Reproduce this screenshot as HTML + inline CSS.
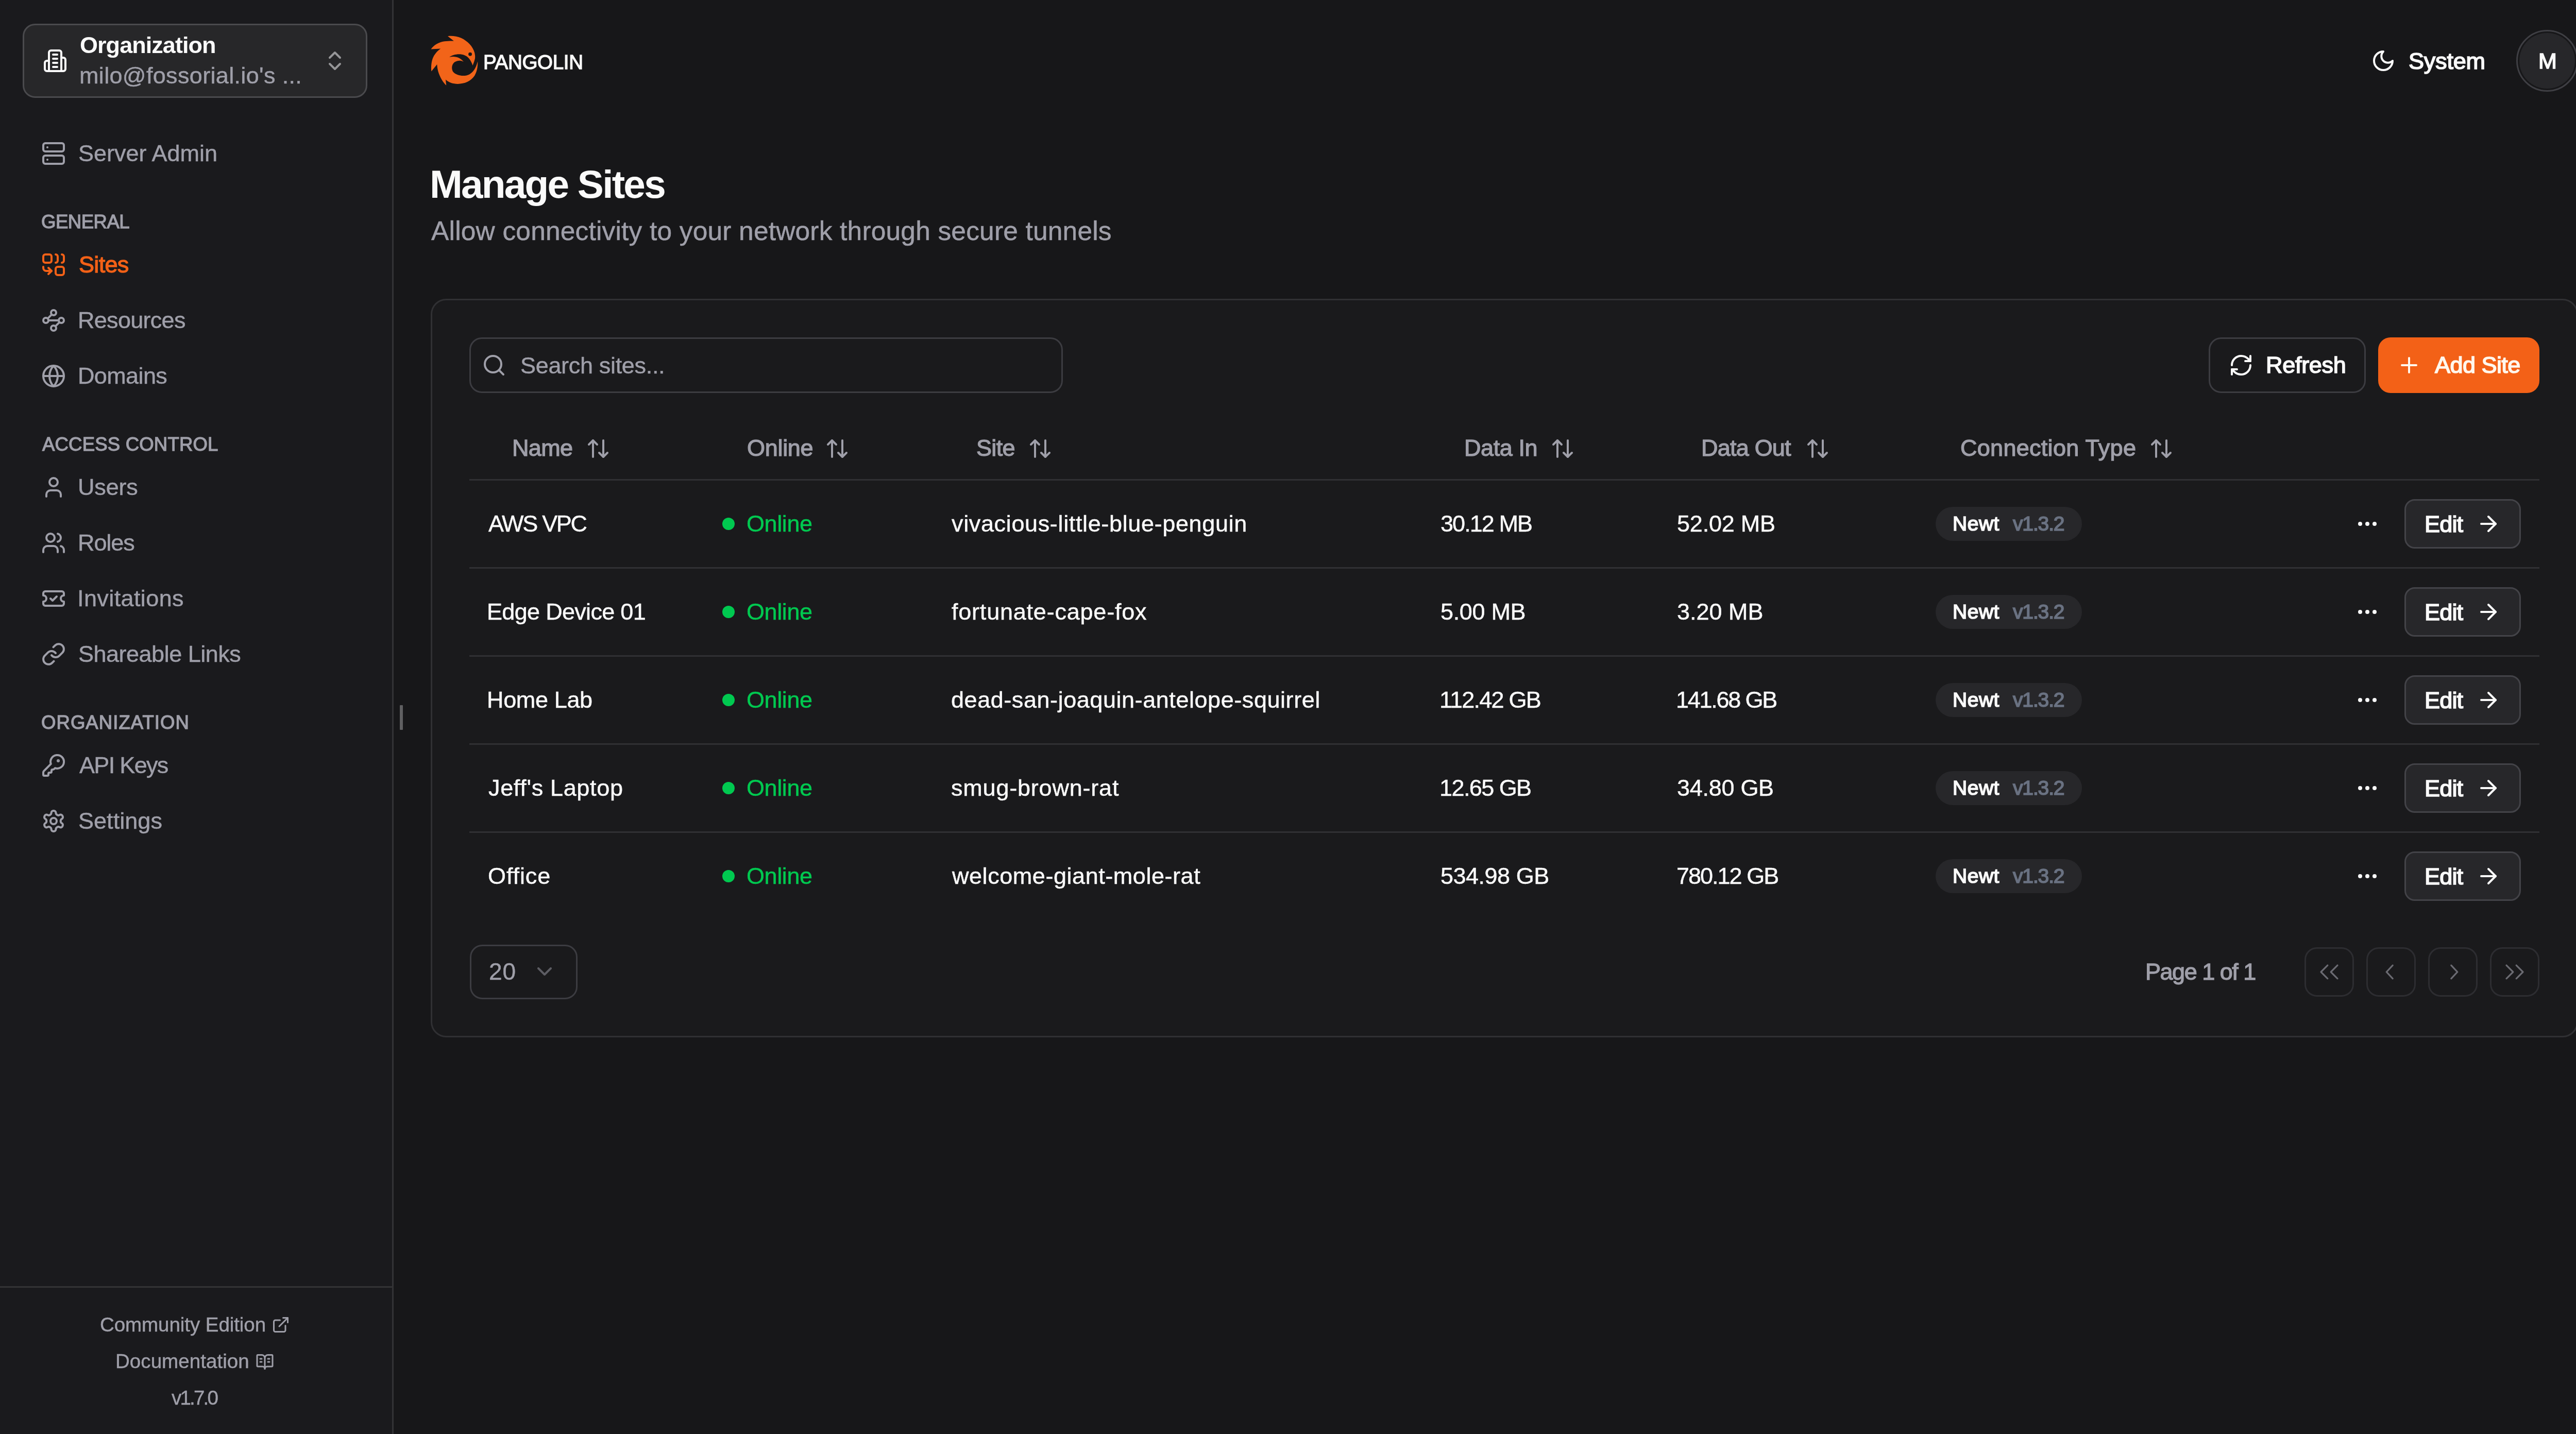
<!DOCTYPE html>
<html><head><meta charset="utf-8"><title>Manage Sites - Pangolin</title>
<style>
html,body{margin:0;padding:0;}
body{width:5074px;height:2784px;overflow:hidden;background:#171719;font-family:"Liberation Sans", Arial, sans-serif;position:relative;}
.t{position:absolute;white-space:nowrap;will-change:transform;}
.b{position:absolute;}
.i{position:absolute;overflow:visible;}
</style></head><body>
<div class="b" style="left:0px;top:0px;width:761px;height:2784px;background:#1a1a1d;"></div>
<div class="b" style="left:761px;top:0px;width:3px;height:2784px;background:#333335;"></div>
<div class="b" style="left:776px;top:1369px;width:6px;height:48px;background:#5f5f61;border-radius:1px;"></div>
<div class="b" style="left:44px;top:46px;width:669px;height:144px;box-sizing:border-box;border:3px solid #4a4a4d;border-radius:24px;background:#272729;"></div>
<svg class="i" style="left:83px;top:94px;color:#fafafa;" width="48" height="48" viewBox="0 0 24 24" fill="none" stroke="#fafafa" stroke-width="2" stroke-linecap="round" stroke-linejoin="round"><path d="M6 22V4a2 2 0 0 1 2-2h8a2 2 0 0 1 2 2v18Z"/><path d="M6 12H4a2 2 0 0 0-2 2v6a2 2 0 0 0 2 2h2"/><path d="M18 9h2a2 2 0 0 1 2 2v9a2 2 0 0 1-2 2h-2"/><path d="M10 6h4"/><path d="M10 10h4"/><path d="M10 14h4"/><path d="M10 18h4"/></svg>
<span id="t1" class="t" style="left:155.00px;top:65.41px;font-size:45px;line-height:45px;color:#fafafa;font-weight:700;letter-spacing:-0.955px;">Organization</span>
<span id="t2" class="t" style="left:154.00px;top:124.41px;font-size:45px;line-height:45px;color:#9f9fa9;font-weight:400;-webkit-text-stroke:0.5px #9f9fa9;letter-spacing:0.340px;">milo@fossorial.io's ...</span>
<svg class="i" style="left:626px;top:94px;color:#969698;" width="48" height="48" viewBox="0 0 24 24" fill="none" stroke="#969698" stroke-width="2" stroke-linecap="round" stroke-linejoin="round"><path d="m7 15 5 5 5-5"/><path d="m7 9 5-5 5 5"/></svg>
<svg class="i" style="left:80px;top:274px;color:#9f9fa9;" width="48" height="48" viewBox="0 0 24 24" fill="none" stroke="#9f9fa9" stroke-width="2" stroke-linecap="round" stroke-linejoin="round"><rect width="20" height="8" x="2" y="2" rx="2" ry="2"/><rect width="20" height="8" x="2" y="14" rx="2" ry="2"/><line x1="6" x2="6.01" y1="6" y2="6"/><line x1="6" x2="6.01" y1="18" y2="18"/></svg>
<span id="t3" class="t" style="left:152.00px;top:275.41px;font-size:45px;line-height:45px;color:#9f9fa9;font-weight:400;-webkit-text-stroke:0.5px #9f9fa9;letter-spacing:-0.018px;">Server Admin</span>
<svg class="i" style="left:80px;top:490px;color:#f36117;" width="48" height="48" viewBox="0 0 24 24" fill="none" stroke="#f36117" stroke-width="2" stroke-linecap="round" stroke-linejoin="round"><path d="M10 18H5a3 3 0 0 1-3-3v-1"/><path d="M14 2a2 2 0 0 1 2 2v4a2 2 0 0 1-2 2"/><path d="M20 2a2 2 0 0 1 2 2v4a2 2 0 0 1-2 2"/><path d="m7 21 3-3-3-3"/><rect x="14" y="14" width="8" height="8" rx="2"/><rect x="2" y="2" width="8" height="8" rx="2"/></svg>
<span id="t4" class="t" style="left:153.00px;top:491.41px;font-size:45px;line-height:45px;color:#f36117;font-weight:400;-webkit-text-stroke:1.3px #f36117;letter-spacing:-0.688px;">Sites</span>
<svg class="i" style="left:80px;top:598px;color:#9f9fa9;" width="48" height="48" viewBox="0 0 24 24" fill="none" stroke="#9f9fa9" stroke-width="2" stroke-linecap="round" stroke-linejoin="round"><circle cx="12" cy="4.5" r="2.5"/><path d="m10.2 6.3-3.9 3.9"/><circle cx="4.5" cy="12" r="2.5"/><path d="M7 12h10"/><circle cx="19.5" cy="12" r="2.5"/><path d="m13.8 17.7 3.9-3.9"/><circle cx="12" cy="19.5" r="2.5"/></svg>
<span id="t5" class="t" style="left:151.00px;top:599.41px;font-size:45px;line-height:45px;color:#9f9fa9;font-weight:400;-webkit-text-stroke:0.5px #9f9fa9;letter-spacing:-0.714px;">Resources</span>
<svg class="i" style="left:80px;top:706px;color:#9f9fa9;" width="48" height="48" viewBox="0 0 24 24" fill="none" stroke="#9f9fa9" stroke-width="2" stroke-linecap="round" stroke-linejoin="round"><circle cx="12" cy="12" r="10"/><path d="M12 2a14.5 14.5 0 0 0 0 20 14.5 14.5 0 0 0 0-20"/><path d="M2 12h20"/></svg>
<span id="t6" class="t" style="left:151.00px;top:707.41px;font-size:45px;line-height:45px;color:#9f9fa9;font-weight:400;-webkit-text-stroke:0.5px #9f9fa9;letter-spacing:-0.629px;">Domains</span>
<svg class="i" style="left:80px;top:922px;color:#9f9fa9;" width="48" height="48" viewBox="0 0 24 24" fill="none" stroke="#9f9fa9" stroke-width="2" stroke-linecap="round" stroke-linejoin="round"><path d="M19 21v-2a4 4 0 0 0-4-4H9a4 4 0 0 0-4 4v2"/><circle cx="12" cy="7" r="4"/></svg>
<span id="t7" class="t" style="left:151.00px;top:923.41px;font-size:45px;line-height:45px;color:#9f9fa9;font-weight:400;-webkit-text-stroke:0.5px #9f9fa9;letter-spacing:-0.175px;">Users</span>
<svg class="i" style="left:80px;top:1030px;color:#9f9fa9;" width="48" height="48" viewBox="0 0 24 24" fill="none" stroke="#9f9fa9" stroke-width="2" stroke-linecap="round" stroke-linejoin="round"><path d="M16 21v-2a4 4 0 0 0-4-4H6a4 4 0 0 0-4 4v2"/><circle cx="9" cy="7" r="4"/><path d="M22 21v-2a4 4 0 0 0-3-3.87"/><path d="M16 3.13a4 4 0 0 1 0 7.75"/></svg>
<span id="t8" class="t" style="left:151.00px;top:1031.41px;font-size:45px;line-height:45px;color:#9f9fa9;font-weight:400;-webkit-text-stroke:0.5px #9f9fa9;letter-spacing:-1.100px;">Roles</span>
<svg class="i" style="left:80px;top:1138px;color:#9f9fa9;" width="48" height="48" viewBox="0 0 24 24" fill="none" stroke="#9f9fa9" stroke-width="2" stroke-linecap="round" stroke-linejoin="round"><path d="M2 9a3 3 0 0 1 0 6v2a2 2 0 0 0 2 2h16a2 2 0 0 0 2-2v-2a3 3 0 0 1 0-6V7a2 2 0 0 0-2-2H4a2 2 0 0 0-2 2Z"/><path d="m9 12 2 2 4-4"/></svg>
<span id="t9" class="t" style="left:150.00px;top:1139.41px;font-size:45px;line-height:45px;color:#9f9fa9;font-weight:400;-webkit-text-stroke:0.5px #9f9fa9;letter-spacing:0.400px;">Invitations</span>
<svg class="i" style="left:80px;top:1246px;color:#9f9fa9;" width="48" height="48" viewBox="0 0 24 24" fill="none" stroke="#9f9fa9" stroke-width="2" stroke-linecap="round" stroke-linejoin="round"><path d="M10 13a5 5 0 0 0 7.54.54l3-3a5 5 0 0 0-7.07-7.07l-1.72 1.71"/><path d="M14 11a5 5 0 0 0-7.54-.54l-3 3a5 5 0 0 0 7.07 7.07l1.71-1.71"/></svg>
<span id="t10" class="t" style="left:152.00px;top:1247.41px;font-size:45px;line-height:45px;color:#9f9fa9;font-weight:400;-webkit-text-stroke:0.5px #9f9fa9;letter-spacing:-0.500px;">Shareable Links</span>
<svg class="i" style="left:80px;top:1462px;color:#9f9fa9;" width="48" height="48" viewBox="0 0 24 24" fill="none" stroke="#9f9fa9" stroke-width="2" stroke-linecap="round" stroke-linejoin="round"><path d="M2.586 17.414A2 2 0 0 0 2 18.828V21a1 1 0 0 0 1 1h3a1 1 0 0 0 1-1v-1a1 1 0 0 1 1-1h1a1 1 0 0 0 1-1v-1a1 1 0 0 1 1-1h.172a2 2 0 0 0 1.414-.586l.814-.814a6.5 6.5 0 1 0-4-4z"/><circle cx="16.5" cy="7.5" r=".5" fill="currentColor"/></svg>
<span id="t11" class="t" style="left:154.00px;top:1463.41px;font-size:45px;line-height:45px;color:#9f9fa9;font-weight:400;-webkit-text-stroke:0.5px #9f9fa9;letter-spacing:-1.673px;">API Keys</span>
<svg class="i" style="left:80px;top:1570px;color:#9f9fa9;" width="48" height="48" viewBox="0 0 24 24" fill="none" stroke="#9f9fa9" stroke-width="2" stroke-linecap="round" stroke-linejoin="round"><path d="M12.22 2h-.44a2 2 0 0 0-2 2v.18a2 2 0 0 1-1 1.73l-.43.25a2 2 0 0 1-2 0l-.15-.08a2 2 0 0 0-2.73.73l-.22.38a2 2 0 0 0 .73 2.73l.15.1a2 2 0 0 1 1 1.72v.51a2 2 0 0 1-1 1.74l-.15.09a2 2 0 0 0-.73 2.73l.22.38a2 2 0 0 0 2.73.73l.15-.08a2 2 0 0 1 2 0l.43.25a2 2 0 0 1 1 1.73V20a2 2 0 0 0 2 2h.44a2 2 0 0 0 2-2v-.18a2 2 0 0 1 1-1.73l.43-.25a2 2 0 0 1 2 0l.15.08a2 2 0 0 0 2.73-.73l.22-.39a2 2 0 0 0-.73-2.73l-.15-.08a2 2 0 0 1-1-1.74v-.5a2 2 0 0 1 1-1.74l.15-.09a2 2 0 0 0 .73-2.73l-.22-.38a2 2 0 0 0-2.73-.73l-.15.08a2 2 0 0 1-2 0l-.43-.25a2 2 0 0 1-1-1.73V4a2 2 0 0 0-2-2z"/><circle cx="12" cy="12" r="3"/></svg>
<span id="t12" class="t" style="left:152.00px;top:1571.41px;font-size:45px;line-height:45px;color:#9f9fa9;font-weight:400;-webkit-text-stroke:0.5px #9f9fa9;letter-spacing:0.041px;">Settings</span>
<span id="t13" class="t" style="left:80.00px;top:412.86px;font-size:36.5px;line-height:36.5px;color:#9f9fa9;font-weight:400;-webkit-text-stroke:1.3px #9f9fa9;letter-spacing:-0.463px;">GENERAL</span>
<span id="t14" class="t" style="left:82.00px;top:844.86px;font-size:36.5px;line-height:36.5px;color:#9f9fa9;font-weight:400;-webkit-text-stroke:1.3px #9f9fa9;letter-spacing:0.203px;">ACCESS CONTROL</span>
<span id="t15" class="t" style="left:80.00px;top:1384.86px;font-size:36.5px;line-height:36.5px;color:#9f9fa9;font-weight:400;-webkit-text-stroke:1.3px #9f9fa9;letter-spacing:1.070px;">ORGANIZATION</span>
<div class="b" style="left:0px;top:2497px;width:761px;height:3px;background:#333335;"></div>
<span id="t16" class="t" style="left:194.00px;top:2552.81px;font-size:38.5px;line-height:38.5px;color:#9f9fa9;font-weight:400;-webkit-text-stroke:0.5px #9f9fa9;letter-spacing:-0.061px;">Community Edition</span>
<svg class="i" style="left:526.5px;top:2553.8px;color:#9f9fa9;" width="36" height="36" viewBox="0 0 24 24" fill="none" stroke="#9f9fa9" stroke-width="2" stroke-linecap="round" stroke-linejoin="round"><path d="M15 3h6v6"/><path d="M10 14 21 3"/><path d="M18 13v6a2 2 0 0 1-2 2H5a2 2 0 0 1-2-2V8a2 2 0 0 1 2-2h6"/></svg>
<span id="t17" class="t" style="left:224.00px;top:2624.41px;font-size:38.5px;line-height:38.5px;color:#9f9fa9;font-weight:400;-webkit-text-stroke:0.5px #9f9fa9;letter-spacing:0.060px;">Documentation</span>
<svg class="i" style="left:496px;top:2626.2px;color:#9f9fa9;" width="36" height="36" viewBox="0 0 24 24" fill="none" stroke="#9f9fa9" stroke-width="2" stroke-linecap="round" stroke-linejoin="round"><path d="M12 7v14"/><path d="M16 12h2"/><path d="M16 8h2"/><path d="M3 18a1 1 0 0 1-1-1V4a1 1 0 0 1 1-1h5a4 4 0 0 1 4 4 4 4 0 0 1 4-4h5a1 1 0 0 1 1 1v13a1 1 0 0 1-1 1h-6a3 3 0 0 0-3 3 3 3 0 0 0-3-3z"/><path d="M6 12h2"/><path d="M6 8h2"/></svg>
<span id="t18" class="t" style="left:333.00px;top:2695.41px;font-size:38.5px;line-height:38.5px;color:#9f9fa9;font-weight:400;-webkit-text-stroke:0.5px #9f9fa9;letter-spacing:-2.800px;">v1.7.0</span>
<svg class="i" style="left:830px;top:60px" width="110" height="115" viewBox="0 0 1352 1413">
<path fill="#f26419" d="M480,125 C560,112 700,120 800,170 C950,240 1080,370 1120,520 C1135,590 1138,640 1135,700 L1190,700 C1205,800 1190,950 1120,1070 C1030,1200 880,1265 720,1265 C600,1262 500,1225 430,1160 L445,1300 C370,1230 290,1100 250,960 C235,900 228,850 225,800 L90,965 C80,880 85,760 120,660 C160,560 230,480 310,425 L80,435 C150,340 260,270 400,250 C470,240 560,238 625,240 Z"/>
<path fill="#171719" d="M520,625 C640,535 880,520 990,660 C1030,715 1060,770 1075,825 C1100,760 1130,690 1140,600 L1260,600 L1200,690 C1175,830 1120,960 1000,1035 C880,1100 700,1070 620,990 C560,920 570,800 640,745 C720,695 820,700 860,740 C790,640 660,590 520,625 Z"/>
<circle cx="1015" cy="555" r="42" fill="#171719"/>
</svg>
<span id="t19" class="t" style="left:937.50px;top:102.41px;font-size:38.5px;line-height:38.5px;color:#fafafa;font-weight:400;-webkit-text-stroke:0.5px #fafafa;letter-spacing:-0.3px;-webkit-text-stroke:1.3px #fafafa;">PANGOLIN</span>
<svg class="i" style="left:4602px;top:94px;color:#fafafa;" width="48" height="48" viewBox="0 0 24 24" fill="none" stroke="#fafafa" stroke-width="2" stroke-linecap="round" stroke-linejoin="round"><path d="M12 3a6 6 0 0 0 9 9 9 9 0 1 1-9-9Z"/></svg>
<span id="t20" class="t" style="left:4675.00px;top:95.61px;font-size:45px;line-height:45px;color:#fafafa;font-weight:400;-webkit-text-stroke:1.7px #fafafa;letter-spacing:-0.200px;">System</span>
<div class="b" style="left:4884px;top:58px;width:120px;height:120px;box-sizing:border-box;border:3px solid #3f3f44;border-radius:50%;"></div>
<div class="b" style="left:4890px;top:64px;width:108px;height:108px;background:#27272a;border-radius:50%;"></div>
<span id="t21" class="t" style="left:4926.50px;top:96.70px;font-size:43px;line-height:43px;color:#fafafa;font-weight:400;-webkit-text-stroke:1.7px #fafafa;">M</span>
<span id="t22" class="t" style="left:834.00px;top:319.75px;font-size:76.5px;line-height:76.5px;color:#fafafa;font-weight:700;letter-spacing:-2.746px;">Manage Sites</span>
<span id="t23" class="t" style="left:837.00px;top:422.91px;font-size:51.5px;line-height:51.5px;color:#9f9fa9;font-weight:400;-webkit-text-stroke:0.5px #9f9fa9;letter-spacing:0.170px;">Allow connectivity to your network through secure tunnels</span>
<div class="b" style="left:836px;top:580px;width:4168px;height:1434px;box-sizing:border-box;border:3px solid #303033;border-radius:30px;background:#1a1a1c;"></div>
<div class="b" style="left:911px;top:655px;width:1152px;height:108px;box-sizing:border-box;border:3px solid #3c3c41;border-radius:24px;"></div>
<svg class="i" style="left:935px;top:685px;color:#9f9fa9;" width="48" height="48" viewBox="0 0 24 24" fill="none" stroke="#9f9fa9" stroke-width="2" stroke-linecap="round" stroke-linejoin="round"><circle cx="11" cy="11" r="8"/><path d="m21 21-4.3-4.3"/></svg>
<span id="t24" class="t" style="left:1010.00px;top:686.91px;font-size:45px;line-height:45px;color:#9f9fa9;font-weight:400;-webkit-text-stroke:0.5px #9f9fa9;letter-spacing:-0.322px;">Search sites...</span>
<div class="b" style="left:4287px;top:655px;width:305px;height:108px;box-sizing:border-box;border:3px solid #3c3c41;border-radius:24px;"></div>
<svg class="i" style="left:4325.5px;top:684.75px;color:#fafafa;" width="48" height="48" viewBox="0 0 24 24" fill="none" stroke="#fafafa" stroke-width="2" stroke-linecap="round" stroke-linejoin="round"><path d="M3 12a9 9 0 0 1 9-9 9.75 9.75 0 0 1 6.74 2.74L21 8"/><path d="M21 3v5h-5"/><path d="M21 12a9 9 0 0 1-9 9 9.75 9.75 0 0 1-6.74-2.74L3 16"/><path d="M8 16H3v5"/></svg>
<span id="t25" class="t" style="left:4398.00px;top:686.41px;font-size:45px;line-height:45px;color:#fafafa;font-weight:400;-webkit-text-stroke:1.7px #fafafa;letter-spacing:-0.296px;">Refresh</span>
<div class="b" style="left:4616px;top:655px;width:313px;height:108px;background:#f36117;border-radius:24px;"></div>
<svg class="i" style="left:4652px;top:684.5px;color:#fff7ed;" width="48" height="48" viewBox="0 0 24 24" fill="none" stroke="#fff7ed" stroke-width="2" stroke-linecap="round" stroke-linejoin="round"><path d="M5 12h14"/><path d="M12 5v14"/></svg>
<span id="t26" class="t" style="left:4726.00px;top:685.91px;font-size:45px;line-height:45px;color:#fff7ed;font-weight:400;-webkit-text-stroke:1.7px #fff7ed;letter-spacing:-0.540px;">Add Site</span>
<span id="t27" class="t" style="left:994.00px;top:847.41px;font-size:45px;line-height:45px;color:#9f9fa9;font-weight:400;-webkit-text-stroke:1.3px #9f9fa9;letter-spacing:-0.667px;">Name</span>
<svg class="i" style="left:1137px;top:846.5px;color:#9f9fa9;" width="48" height="48" viewBox="0 0 24 24" fill="none" stroke="#9f9fa9" stroke-width="2" stroke-linecap="round" stroke-linejoin="round"><path d="m21 16-4 4-4-4"/><path d="M17 20V4"/><path d="m3 8 4-4 4 4"/><path d="M7 4v16"/></svg>
<span id="t28" class="t" style="left:1450.00px;top:847.41px;font-size:45px;line-height:45px;color:#9f9fa9;font-weight:400;-webkit-text-stroke:1.3px #9f9fa9;letter-spacing:-0.300px;">Online</span>
<svg class="i" style="left:1601px;top:846.5px;color:#9f9fa9;" width="48" height="48" viewBox="0 0 24 24" fill="none" stroke="#9f9fa9" stroke-width="2" stroke-linecap="round" stroke-linejoin="round"><path d="m21 16-4 4-4-4"/><path d="M17 20V4"/><path d="m3 8 4-4 4 4"/><path d="M7 4v16"/></svg>
<span id="t29" class="t" style="left:1895.00px;top:847.41px;font-size:45px;line-height:45px;color:#9f9fa9;font-weight:400;-webkit-text-stroke:1.3px #9f9fa9;letter-spacing:-0.667px;">Site</span>
<svg class="i" style="left:1995px;top:846.5px;color:#9f9fa9;" width="48" height="48" viewBox="0 0 24 24" fill="none" stroke="#9f9fa9" stroke-width="2" stroke-linecap="round" stroke-linejoin="round"><path d="m21 16-4 4-4-4"/><path d="M17 20V4"/><path d="m3 8 4-4 4 4"/><path d="M7 4v16"/></svg>
<span id="t30" class="t" style="left:2842.00px;top:847.41px;font-size:45px;line-height:45px;color:#9f9fa9;font-weight:400;-webkit-text-stroke:1.3px #9f9fa9;letter-spacing:-0.417px;">Data In</span>
<svg class="i" style="left:3008.5px;top:846.5px;color:#9f9fa9;" width="48" height="48" viewBox="0 0 24 24" fill="none" stroke="#9f9fa9" stroke-width="2" stroke-linecap="round" stroke-linejoin="round"><path d="m21 16-4 4-4-4"/><path d="M17 20V4"/><path d="m3 8 4-4 4 4"/><path d="M7 4v16"/></svg>
<span id="t31" class="t" style="left:3302.00px;top:847.41px;font-size:45px;line-height:45px;color:#9f9fa9;font-weight:400;-webkit-text-stroke:1.3px #9f9fa9;letter-spacing:-0.786px;">Data Out</span>
<svg class="i" style="left:3503.5px;top:846.5px;color:#9f9fa9;" width="48" height="48" viewBox="0 0 24 24" fill="none" stroke="#9f9fa9" stroke-width="2" stroke-linecap="round" stroke-linejoin="round"><path d="m21 16-4 4-4-4"/><path d="M17 20V4"/><path d="m3 8 4-4 4 4"/><path d="M7 4v16"/></svg>
<span id="t32" class="t" style="left:3805.00px;top:847.41px;font-size:45px;line-height:45px;color:#9f9fa9;font-weight:400;-webkit-text-stroke:1.3px #9f9fa9;letter-spacing:0.286px;">Connection Type</span>
<svg class="i" style="left:4171px;top:846.5px;color:#9f9fa9;" width="48" height="48" viewBox="0 0 24 24" fill="none" stroke="#9f9fa9" stroke-width="2" stroke-linecap="round" stroke-linejoin="round"><path d="m21 16-4 4-4-4"/><path d="M17 20V4"/><path d="m3 8 4-4 4 4"/><path d="M7 4v16"/></svg>
<div class="b" style="left:911px;top:930px;width:4018px;height:3px;background:#303033;"></div>
<div class="b" style="left:911px;top:1101px;width:4018px;height:3px;background:#303033;"></div>
<div class="b" style="left:911px;top:1272px;width:4018px;height:3px;background:#303033;"></div>
<div class="b" style="left:911px;top:1443px;width:4018px;height:3px;background:#303033;"></div>
<div class="b" style="left:911px;top:1614px;width:4018px;height:3px;background:#303033;"></div>
<span id="t33" class="t" style="left:948.00px;top:994.11px;font-size:45px;line-height:45px;color:#fafafa;font-weight:400;-webkit-text-stroke:0.5px #fafafa;letter-spacing:-2.296px;">AWS VPC</span>
<div class="b" style="left:1402px;top:1005px;width:24px;height:24px;background:#00c950;border-radius:50%;"></div>
<span id="t34" class="t" style="left:1449.00px;top:994.11px;font-size:45px;line-height:45px;color:#00c950;font-weight:400;-webkit-text-stroke:0.5px #00c950;letter-spacing:-0.400px;">Online</span>
<span id="t35" class="t" style="left:1847.00px;top:994.11px;font-size:45px;line-height:45px;color:#fafafa;font-weight:400;-webkit-text-stroke:0.5px #fafafa;letter-spacing:0.643px;">vivacious-little-blue-penguin</span>
<span id="t36" class="t" style="left:2796.00px;top:994.11px;font-size:45px;line-height:45px;color:#fafafa;font-weight:400;-webkit-text-stroke:0.5px #fafafa;letter-spacing:-1.929px;">30.12 MB</span>
<span id="t37" class="t" style="left:3255.00px;top:994.11px;font-size:45px;line-height:45px;color:#fafafa;font-weight:400;-webkit-text-stroke:0.5px #fafafa;letter-spacing:-0.213px;">52.02 MB</span>
<div class="b" style="left:3757px;top:984px;width:284px;height:66px;background:#27272a;border-radius:33px;"></div>
<span id="t38" class="t" style="left:3790.00px;top:997.19px;font-size:39px;line-height:39px;color:#fafafa;font-weight:400;-webkit-text-stroke:1.7px #fafafa;letter-spacing:0.530px;">Newt</span>
<span id="t39" class="t" style="left:3907.00px;top:997.19px;font-size:39px;line-height:39px;color:#6a7282;font-weight:400;-webkit-text-stroke:1.7px #6a7282;letter-spacing:-1.140px;">v1.3.2</span>
<div class="b" style="left:4577.05px;top:1012.85px;width:8.3px;height:8.3px;background:#fafafa;border-radius:50%;"></div>
<div class="b" style="left:4590.85px;top:1012.85px;width:8.3px;height:8.3px;background:#fafafa;border-radius:50%;"></div>
<div class="b" style="left:4604.650000000001px;top:1012.85px;width:8.3px;height:8.3px;background:#fafafa;border-radius:50%;"></div>
<div class="b" style="left:4667px;top:969px;width:226px;height:96px;box-sizing:border-box;border:3px solid #434348;border-radius:20px;background:#27272a;"></div>
<span id="t40" class="t" style="left:4706.00px;top:994.91px;font-size:45px;line-height:45px;color:#fafafa;font-weight:400;-webkit-text-stroke:1.7px #fafafa;letter-spacing:-0.833px;">Edit</span>
<svg class="i" style="left:4806px;top:993px;color:#fafafa;" width="48" height="48" viewBox="0 0 24 24" fill="none" stroke="#fafafa" stroke-width="2" stroke-linecap="round" stroke-linejoin="round"><path d="M5 12h14"/><path d="m12 5 7 7-7 7"/></svg>
<span id="t41" class="t" style="left:945.00px;top:1165.11px;font-size:45px;line-height:45px;color:#fafafa;font-weight:400;-webkit-text-stroke:0.5px #fafafa;letter-spacing:-0.692px;">Edge Device 01</span>
<div class="b" style="left:1402px;top:1176px;width:24px;height:24px;background:#00c950;border-radius:50%;"></div>
<span id="t42" class="t" style="left:1449.00px;top:1165.11px;font-size:45px;line-height:45px;color:#00c950;font-weight:400;-webkit-text-stroke:0.5px #00c950;letter-spacing:-0.400px;">Online</span>
<span id="t43" class="t" style="left:1847.00px;top:1165.11px;font-size:45px;line-height:45px;color:#fafafa;font-weight:400;-webkit-text-stroke:0.5px #fafafa;letter-spacing:0.781px;">fortunate-cape-fox</span>
<span id="t44" class="t" style="left:2796.00px;top:1165.11px;font-size:45px;line-height:45px;color:#fafafa;font-weight:400;-webkit-text-stroke:0.5px #fafafa;letter-spacing:-0.333px;">5.00 MB</span>
<span id="t45" class="t" style="left:3255.00px;top:1165.11px;font-size:45px;line-height:45px;color:#fafafa;font-weight:400;-webkit-text-stroke:0.5px #fafafa;">3.20 MB</span>
<div class="b" style="left:3757px;top:1155px;width:284px;height:66px;background:#27272a;border-radius:33px;"></div>
<span id="t46" class="t" style="left:3790.00px;top:1168.19px;font-size:39px;line-height:39px;color:#fafafa;font-weight:400;-webkit-text-stroke:1.7px #fafafa;letter-spacing:0.530px;">Newt</span>
<span id="t47" class="t" style="left:3907.00px;top:1168.19px;font-size:39px;line-height:39px;color:#6a7282;font-weight:400;-webkit-text-stroke:1.7px #6a7282;letter-spacing:-1.140px;">v1.3.2</span>
<div class="b" style="left:4577.05px;top:1183.85px;width:8.3px;height:8.3px;background:#fafafa;border-radius:50%;"></div>
<div class="b" style="left:4590.85px;top:1183.85px;width:8.3px;height:8.3px;background:#fafafa;border-radius:50%;"></div>
<div class="b" style="left:4604.650000000001px;top:1183.85px;width:8.3px;height:8.3px;background:#fafafa;border-radius:50%;"></div>
<div class="b" style="left:4667px;top:1140px;width:226px;height:96px;box-sizing:border-box;border:3px solid #434348;border-radius:20px;background:#27272a;"></div>
<span id="t48" class="t" style="left:4706.00px;top:1165.91px;font-size:45px;line-height:45px;color:#fafafa;font-weight:400;-webkit-text-stroke:1.7px #fafafa;letter-spacing:-0.833px;">Edit</span>
<svg class="i" style="left:4806px;top:1164px;color:#fafafa;" width="48" height="48" viewBox="0 0 24 24" fill="none" stroke="#fafafa" stroke-width="2" stroke-linecap="round" stroke-linejoin="round"><path d="M5 12h14"/><path d="m12 5 7 7-7 7"/></svg>
<span id="t49" class="t" style="left:945.00px;top:1336.11px;font-size:45px;line-height:45px;color:#fafafa;font-weight:400;-webkit-text-stroke:0.5px #fafafa;letter-spacing:-0.357px;">Home Lab</span>
<div class="b" style="left:1402px;top:1347px;width:24px;height:24px;background:#00c950;border-radius:50%;"></div>
<span id="t50" class="t" style="left:1449.00px;top:1336.11px;font-size:45px;line-height:45px;color:#00c950;font-weight:400;-webkit-text-stroke:0.5px #00c950;letter-spacing:-0.400px;">Online</span>
<span id="t51" class="t" style="left:1846.00px;top:1336.11px;font-size:45px;line-height:45px;color:#fafafa;font-weight:400;-webkit-text-stroke:0.5px #fafafa;letter-spacing:0.555px;">dead-san-joaquin-antelope-squirrel</span>
<span id="t52" class="t" style="left:2794.00px;top:1336.11px;font-size:45px;line-height:45px;color:#fafafa;font-weight:400;-webkit-text-stroke:0.5px #fafafa;letter-spacing:-1.750px;">112.42 GB</span>
<span id="t53" class="t" style="left:3253.00px;top:1336.11px;font-size:45px;line-height:45px;color:#fafafa;font-weight:400;-webkit-text-stroke:0.5px #fafafa;letter-spacing:-2.250px;">141.68 GB</span>
<div class="b" style="left:3757px;top:1326px;width:284px;height:66px;background:#27272a;border-radius:33px;"></div>
<span id="t54" class="t" style="left:3790.00px;top:1339.19px;font-size:39px;line-height:39px;color:#fafafa;font-weight:400;-webkit-text-stroke:1.7px #fafafa;letter-spacing:0.530px;">Newt</span>
<span id="t55" class="t" style="left:3907.00px;top:1339.19px;font-size:39px;line-height:39px;color:#6a7282;font-weight:400;-webkit-text-stroke:1.7px #6a7282;letter-spacing:-1.140px;">v1.3.2</span>
<div class="b" style="left:4577.05px;top:1354.85px;width:8.3px;height:8.3px;background:#fafafa;border-radius:50%;"></div>
<div class="b" style="left:4590.85px;top:1354.85px;width:8.3px;height:8.3px;background:#fafafa;border-radius:50%;"></div>
<div class="b" style="left:4604.650000000001px;top:1354.85px;width:8.3px;height:8.3px;background:#fafafa;border-radius:50%;"></div>
<div class="b" style="left:4667px;top:1311px;width:226px;height:96px;box-sizing:border-box;border:3px solid #434348;border-radius:20px;background:#27272a;"></div>
<span id="t56" class="t" style="left:4706.00px;top:1336.91px;font-size:45px;line-height:45px;color:#fafafa;font-weight:400;-webkit-text-stroke:1.7px #fafafa;letter-spacing:-0.833px;">Edit</span>
<svg class="i" style="left:4806px;top:1335px;color:#fafafa;" width="48" height="48" viewBox="0 0 24 24" fill="none" stroke="#fafafa" stroke-width="2" stroke-linecap="round" stroke-linejoin="round"><path d="M5 12h14"/><path d="m12 5 7 7-7 7"/></svg>
<span id="t57" class="t" style="left:948.00px;top:1507.11px;font-size:45px;line-height:45px;color:#fafafa;font-weight:400;-webkit-text-stroke:0.5px #fafafa;letter-spacing:0.667px;">Jeff's Laptop</span>
<div class="b" style="left:1402px;top:1518px;width:24px;height:24px;background:#00c950;border-radius:50%;"></div>
<span id="t58" class="t" style="left:1449.00px;top:1507.11px;font-size:45px;line-height:45px;color:#00c950;font-weight:400;-webkit-text-stroke:0.5px #00c950;letter-spacing:-0.400px;">Online</span>
<span id="t59" class="t" style="left:1846.00px;top:1507.11px;font-size:45px;line-height:45px;color:#fafafa;font-weight:400;-webkit-text-stroke:0.5px #fafafa;letter-spacing:0.792px;">smug-brown-rat</span>
<span id="t60" class="t" style="left:2794.00px;top:1507.11px;font-size:45px;line-height:45px;color:#fafafa;font-weight:400;-webkit-text-stroke:0.5px #fafafa;letter-spacing:-1.571px;">12.65 GB</span>
<span id="t61" class="t" style="left:3255.00px;top:1507.11px;font-size:45px;line-height:45px;color:#fafafa;font-weight:400;-webkit-text-stroke:0.5px #fafafa;letter-spacing:-0.286px;">34.80 GB</span>
<div class="b" style="left:3757px;top:1497px;width:284px;height:66px;background:#27272a;border-radius:33px;"></div>
<span id="t62" class="t" style="left:3790.00px;top:1510.19px;font-size:39px;line-height:39px;color:#fafafa;font-weight:400;-webkit-text-stroke:1.7px #fafafa;letter-spacing:0.530px;">Newt</span>
<span id="t63" class="t" style="left:3907.00px;top:1510.19px;font-size:39px;line-height:39px;color:#6a7282;font-weight:400;-webkit-text-stroke:1.7px #6a7282;letter-spacing:-1.140px;">v1.3.2</span>
<div class="b" style="left:4577.05px;top:1525.85px;width:8.3px;height:8.3px;background:#fafafa;border-radius:50%;"></div>
<div class="b" style="left:4590.85px;top:1525.85px;width:8.3px;height:8.3px;background:#fafafa;border-radius:50%;"></div>
<div class="b" style="left:4604.650000000001px;top:1525.85px;width:8.3px;height:8.3px;background:#fafafa;border-radius:50%;"></div>
<div class="b" style="left:4667px;top:1482px;width:226px;height:96px;box-sizing:border-box;border:3px solid #434348;border-radius:20px;background:#27272a;"></div>
<span id="t64" class="t" style="left:4706.00px;top:1507.91px;font-size:45px;line-height:45px;color:#fafafa;font-weight:400;-webkit-text-stroke:1.7px #fafafa;letter-spacing:-0.833px;">Edit</span>
<svg class="i" style="left:4806px;top:1506px;color:#fafafa;" width="48" height="48" viewBox="0 0 24 24" fill="none" stroke="#fafafa" stroke-width="2" stroke-linecap="round" stroke-linejoin="round"><path d="M5 12h14"/><path d="m12 5 7 7-7 7"/></svg>
<span id="t65" class="t" style="left:947.00px;top:1678.11px;font-size:45px;line-height:45px;color:#fafafa;font-weight:400;-webkit-text-stroke:0.5px #fafafa;letter-spacing:0.900px;">Office</span>
<div class="b" style="left:1402px;top:1689px;width:24px;height:24px;background:#00c950;border-radius:50%;"></div>
<span id="t66" class="t" style="left:1449.00px;top:1678.11px;font-size:45px;line-height:45px;color:#00c950;font-weight:400;-webkit-text-stroke:0.5px #00c950;letter-spacing:-0.400px;">Online</span>
<span id="t67" class="t" style="left:1848.00px;top:1678.11px;font-size:45px;line-height:45px;color:#fafafa;font-weight:400;-webkit-text-stroke:0.5px #fafafa;letter-spacing:0.548px;">welcome-giant-mole-rat</span>
<span id="t68" class="t" style="left:2796.00px;top:1678.11px;font-size:45px;line-height:45px;color:#fafafa;font-weight:400;-webkit-text-stroke:0.5px #fafafa;letter-spacing:-0.500px;">534.98 GB</span>
<span id="t69" class="t" style="left:3254.00px;top:1678.11px;font-size:45px;line-height:45px;color:#fafafa;font-weight:400;-webkit-text-stroke:0.5px #fafafa;letter-spacing:-2.000px;">780.12 GB</span>
<div class="b" style="left:3757px;top:1668px;width:284px;height:66px;background:#27272a;border-radius:33px;"></div>
<span id="t70" class="t" style="left:3790.00px;top:1681.19px;font-size:39px;line-height:39px;color:#fafafa;font-weight:400;-webkit-text-stroke:1.7px #fafafa;letter-spacing:0.530px;">Newt</span>
<span id="t71" class="t" style="left:3907.00px;top:1681.19px;font-size:39px;line-height:39px;color:#6a7282;font-weight:400;-webkit-text-stroke:1.7px #6a7282;letter-spacing:-1.140px;">v1.3.2</span>
<div class="b" style="left:4577.05px;top:1696.85px;width:8.3px;height:8.3px;background:#fafafa;border-radius:50%;"></div>
<div class="b" style="left:4590.85px;top:1696.85px;width:8.3px;height:8.3px;background:#fafafa;border-radius:50%;"></div>
<div class="b" style="left:4604.650000000001px;top:1696.85px;width:8.3px;height:8.3px;background:#fafafa;border-radius:50%;"></div>
<div class="b" style="left:4667px;top:1653px;width:226px;height:96px;box-sizing:border-box;border:3px solid #434348;border-radius:20px;background:#27272a;"></div>
<span id="t72" class="t" style="left:4706.00px;top:1678.91px;font-size:45px;line-height:45px;color:#fafafa;font-weight:400;-webkit-text-stroke:1.7px #fafafa;letter-spacing:-0.833px;">Edit</span>
<svg class="i" style="left:4806px;top:1677px;color:#fafafa;" width="48" height="48" viewBox="0 0 24 24" fill="none" stroke="#fafafa" stroke-width="2" stroke-linecap="round" stroke-linejoin="round"><path d="M5 12h14"/><path d="m12 5 7 7-7 7"/></svg>
<div class="b" style="left:911.5px;top:1834px;width:209px;height:106px;box-sizing:border-box;border:3px solid #3c3c41;border-radius:24px;"></div>
<span id="t73" class="t" style="left:949.00px;top:1862.67px;font-size:46px;line-height:46px;color:#9f9fa9;font-weight:400;-webkit-text-stroke:0.5px #9f9fa9;letter-spacing:0.800px;">20</span>
<svg class="i" style="left:1033px;top:1862px;color:#9f9fa9;opacity:.5;" width="48" height="48" viewBox="0 0 24 24" fill="none" stroke="#9f9fa9" stroke-width="2" stroke-linecap="round" stroke-linejoin="round"><path d="m6 9 6 6 6-6"/></svg>
<span id="t74" class="t" style="left:4164.00px;top:1864.31px;font-size:45px;line-height:45px;color:#9f9fa9;font-weight:400;-webkit-text-stroke:1.3px #9f9fa9;letter-spacing:-1.480px;">Page 1 of 1</span>
<div class="b" style="left:4473px;top:1839px;width:96px;height:96px;box-sizing:border-box;border:3px solid #2d2d31;border-radius:24px;"></div>
<svg class="i" style="left:4497px;top:1863px" width="48" height="48" viewBox="0 0 15 15"><path fill="#6b6b72" fill-rule="evenodd" clip-rule="evenodd" d="M6.85355 3.85355C7.04882 3.65829 7.04882 3.34171 6.85355 3.14645C6.65829 2.95118 6.34171 2.95118 6.14645 3.14645L2.14645 7.14645C1.95118 7.34171 1.95118 7.65829 2.14645 7.85355L6.14645 11.8536C6.34171 12.0488 6.65829 12.0488 6.85355 11.8536C7.04882 11.6583 7.04882 11.3417 6.85355 11.1464L3.20711 7.5L6.85355 3.85355ZM12.8536 3.85355C13.0488 3.65829 13.0488 3.34171 12.8536 3.14645C12.6583 2.95118 12.3417 2.95118 12.1464 3.14645L8.14645 7.14645C7.95118 7.34171 7.95118 7.65829 8.14645 7.85355L12.1464 11.8536C12.3417 12.0488 12.6583 12.0488 12.8536 11.8536C13.0488 11.6583 13.0488 11.3417 12.8536 11.1464L9.20711 7.5L12.8536 3.85355Z"/></svg>
<div class="b" style="left:4593px;top:1839px;width:96px;height:96px;box-sizing:border-box;border:3px solid #2d2d31;border-radius:24px;"></div>
<svg class="i" style="left:4617px;top:1863px" width="48" height="48" viewBox="0 0 15 15"><path fill="#6b6b72" fill-rule="evenodd" clip-rule="evenodd" d="M8.84182 3.13514C9.04327 3.32401 9.05348 3.64042 8.86462 3.84188L5.43521 7.49991L8.86462 11.1579C9.05348 11.3594 9.04327 11.6758 8.84182 11.8647C8.64036 12.0535 8.32394 12.0433 8.13508 11.8419L4.38508 7.84188C4.20477 7.64955 4.20477 7.35027 4.38508 7.15794L8.13508 3.15794C8.32394 2.95648 8.64036 2.94628 8.84182 3.13514Z"/></svg>
<div class="b" style="left:4713px;top:1839px;width:96px;height:96px;box-sizing:border-box;border:3px solid #2d2d31;border-radius:24px;"></div>
<svg class="i" style="left:4737px;top:1863px" width="48" height="48" viewBox="0 0 15 15"><path fill="#6b6b72" fill-rule="evenodd" clip-rule="evenodd" d="M6.1584 3.13508C6.35985 2.94621 6.67627 2.95642 6.86514 3.15788L10.6151 7.15788C10.7954 7.3502 10.7954 7.64949 10.6151 7.84182L6.86514 11.8418C6.67627 12.0433 6.35985 12.0535 6.1584 11.8646C5.95694 11.6757 5.94673 11.3593 6.1356 11.1579L9.565 7.49985L6.1356 3.84182C5.94673 3.64036 5.95694 3.32394 6.1584 3.13508Z"/></svg>
<div class="b" style="left:4833px;top:1839px;width:96px;height:96px;box-sizing:border-box;border:3px solid #2d2d31;border-radius:24px;"></div>
<svg class="i" style="left:4857px;top:1863px" width="48" height="48" viewBox="0 0 15 15"><path fill="#6b6b72" fill-rule="evenodd" clip-rule="evenodd" d="M2.14645 11.1464C1.95118 11.3417 1.95118 11.6583 2.14645 11.8536C2.34171 12.0488 2.65829 12.0488 2.85355 11.8536L6.85355 7.85355C7.04882 7.65829 7.04882 7.34171 6.85355 7.14645L2.85355 3.14645C2.65829 2.95118 2.34171 2.95118 2.14645 3.14645C1.95118 3.34171 1.95118 3.65829 2.14645 3.85355L5.79289 7.5L2.14645 11.1464ZM8.14645 11.1464C7.95118 11.3417 7.95118 11.6583 8.14645 11.8536C8.34171 12.0488 8.65829 12.0488 8.85355 11.8536L12.8536 7.85355C13.0488 7.65829 13.0488 7.34171 12.8536 7.14645L8.85355 3.14645C8.65829 2.95118 8.34171 2.95118 8.14645 3.14645C7.95118 3.34171 7.95118 3.65829 8.14645 3.85355L11.7929 7.5L8.14645 11.1464Z"/></svg>
</body></html>
